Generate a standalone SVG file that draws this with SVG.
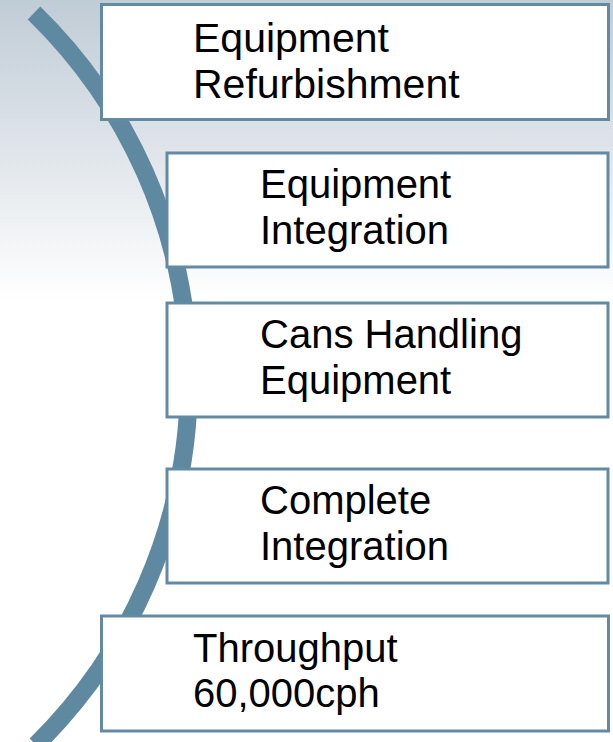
<svg xmlns="http://www.w3.org/2000/svg" width="613" height="742" viewBox="0 0 613 742">
  <defs>
    <linearGradient id="bg" x1="0" y1="0" x2="0" y2="1">
      <stop offset="0" stop-color="#c0ccd6"/>
      <stop offset="0.45" stop-color="#dce2e8"/>
      <stop offset="1" stop-color="#ffffff"/>
    </linearGradient>
    <style>
      .box { fill: #ffffff; stroke: #628aa3; stroke-width: 3; }
      .t { font-family: "Liberation Sans", Arial, sans-serif; font-size: 40px; fill: #000000; }
      .t1 { font-family: "Liberation Sans", Arial, sans-serif; font-size: 41px; fill: #000000; }
      .arc { fill: none; stroke: #5f88a1; stroke-width: 18; stroke-linecap: butt; }
    </style>
  </defs>
  <rect x="0" y="0" width="613" height="742" fill="#ffffff"/>
  <rect x="0" y="0" width="613" height="300" fill="url(#bg)"/>
  <g id="connectors">
    <path class="arc" d="M34,13 A512,512 0 0 1 36,745"/>
  </g>
  <g id="node1">
    <rect class="box" x="101.5" y="4.5" width="507" height="115"/>
    <text class="t1" x="193" y="52">Equipment</text>
    <text class="t1" x="193" y="98">Refurbishment</text>
  </g>
  <g id="node2">
    <rect class="box" x="167" y="153" width="441" height="114"/>
    <text class="t" x="260" y="198">Equipment</text>
    <text class="t" x="260" y="244">Integration</text>
  </g>
  <g id="node3">
    <rect class="box" x="167" y="303" width="441" height="114"/>
    <text class="t" x="260" y="348">Cans Handling</text>
    <text class="t" x="260" y="394">Equipment</text>
  </g>
  <g id="node4">
    <rect class="box" x="167" y="469" width="441" height="114"/>
    <text class="t" x="260" y="514">Complete</text>
    <text class="t" x="260" y="560">Integration</text>
  </g>
  <g id="node5">
    <rect class="box" x="101.5" y="616" width="507" height="115"/>
    <text class="t" x="193" y="662">Throughput</text>
    <text class="t" x="193" y="707">60,000cph</text>
  </g>
</svg>
